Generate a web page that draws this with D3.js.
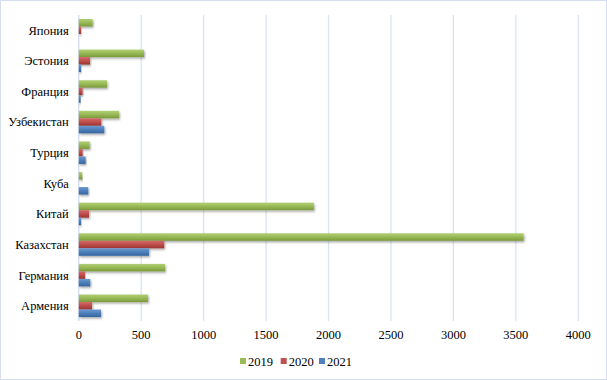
<!DOCTYPE html>
<html><head><meta charset="utf-8">
<script src="https://cdn.jsdelivr.net/npm/d3@7"></script>
</head>
<body style="margin:0;padding:0;background:#fff;">
<script>
(function(){
const categories = ["Армения","Германия","Казахстан","Китай","Куба","Турция","Узбекистан","Франция","Эстония","Япония"];
const series = ["2019","2020","2021"];
const values2019 = [554, 690, 3562, 1882, 28, 87, 322, 226, 522, 111];
const values2020 = [106, 50, 684, 82, 0, 30, 180, 30, 90, 18];
const values2021 = [178, 92, 562, 18, 76, 55, 204, 15, 18, 0];
const xTicks = [0,500,1000,1500,2000,2500,3000,3500,4000];
const colors = ["#9bbb59","#c0504d","#4f81bd"];
const dark = ["#7a9a3c","#9c3431","#36659e"];
const light = ["#b0cf72","#d36a67","#6c9ad0"];
const FONT = '"Liberation Serif"';
const FS = 12.5;

const W=607,H=380;
const svg=d3.select("body").append("svg").attr("width",W).attr("height",H)
  .style("display","block").attr("font-family",FONT).style("font-family",FONT);
svg.append("rect").attr("x",0.5).attr("y",0.5).attr("width",W-1).attr("height",H-1)
  .attr("fill","#fff").attr("stroke","#d5deec");

const defs=svg.append("defs");
series.forEach((s,i)=>{
  const g=defs.append("linearGradient").attr("id","g"+i).attr("x1",0).attr("y1",0).attr("x2",0).attr("y2",1);
  g.append("stop").attr("offset","0%").attr("stop-color",light[i]);
  g.append("stop").attr("offset","45%").attr("stop-color",colors[i]);
  g.append("stop").attr("offset","100%").attr("stop-color",dark[i]);
});
const f=defs.append("filter").attr("id","sh").attr("x","-5%").attr("y","-50%").attr("width","120%").attr("height","250%");
f.append("feDropShadow").attr("dx",1).attr("dy",1.5).attr("stdDeviation",1).attr("flood-color","#000").attr("flood-opacity",0.35);

const mLeft=78.8,mRight=578.3,mTop=15,mBottom=321;
const x=d3.scaleLinear().domain([0,4000]).range([mLeft,mRight]);
const y=d3.scaleBand().domain(categories.slice().reverse()).range([mTop,mBottom]).paddingInner(0.265).paddingOuter(0.13);
const ys=d3.scaleBand().domain(series).range([0,y.bandwidth()]);

svg.append("g").selectAll("line").data(xTicks).join("line")
  .attr("x1",d=>x(d)).attr("x2",d=>x(d)).attr("y1",mTop).attr("y2",mBottom)
  .attr("stroke",d=>d===0?"#d0dcef":"#d9e4f3").attr("stroke-width",1.3);

const data=[values2019,values2020,values2021];
const gb=svg.append("g");
categories.forEach((c,ci)=>{
  series.forEach((s,si)=>{
    const v=data[si][ci];
    if(v<=0) return;
    gb.append("rect").attr("x",x(0)).attr("y",y(c)+ys(s))
      .attr("width",x(v)-x(0)).attr("height",ys.bandwidth())
      .attr("fill","url(#g"+si+")").attr("filter","url(#sh)");
  });
});

// x tick labels (from scale)
svg.append("g").selectAll("text").data(x.ticks(8)).join("text")
  .attr("x",d=>x(d)).attr("y",mBottom+18).attr("text-anchor","middle")
  .attr("font-size",FS).style("font-family",FONT).attr("fill","#000")
  .text(d=>String(d));

// y category labels (from band scale)
svg.append("g").selectAll("text").data(categories).join("text")
  .attr("x",mLeft-10).attr("y",d=>y(d)+y.bandwidth()/2).attr("dy","0.35em")
  .attr("text-anchor","end").attr("font-size",FS).style("font-family",FONT).attr("fill","#000")
  .text(d=>d);

const lx=[240,280.7,319];
const lg=svg.append("g");
series.forEach((s,i)=>{
  lg.append("rect").attr("x",lx[i]).attr("y",358).attr("width",6).attr("height",6).attr("fill",colors[i]);
  lg.append("text").attr("x",lx[i]+8).attr("y",365.5).text(s)
    .attr("font-size",FS).style("font-family",FONT).attr("fill","#000");
});
})();
</script>
</body></html>
